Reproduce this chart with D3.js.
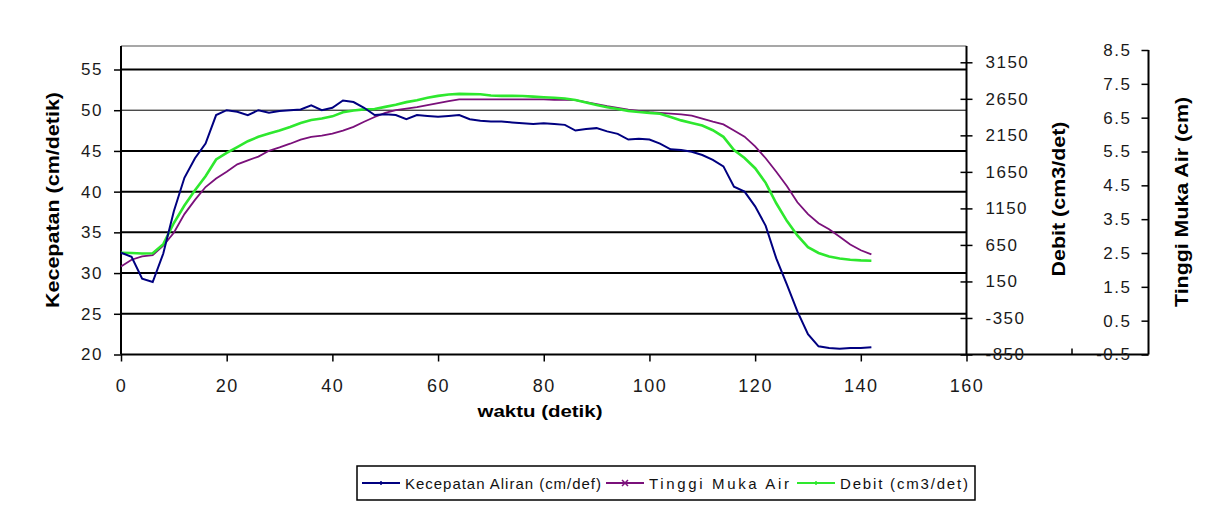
<!DOCTYPE html>
<html>
<head>
<meta charset="utf-8">
<script src="https://cdn.jsdelivr.net/npm/d3@7"></script>
<style>
  body { margin: 0; background: #fff; }
  text { font-family: Arial, "Liberation Sans", sans-serif; }
</style>
</head>
<body>
<div id="chart"></div>
<script>
// waktu (detik)
var waktu = [0,2,4,6,8,10,12,14,16,18,20,22,24,26,28,30,32,34,36,38,40,42,44,46,48,50,52,54,56,58,60,62,64,66,68,70,
  72,74,76,78,80,82,84,86,88,90,92,94,96,98,100,102,104,106,108,110,112,114,116,118,120,122,124,126,128,130,132,134,136,138,140,142];

// Kecepatan Aliran (cm/det) - left axis
var kecepatan = [32.5,32.0,29.3,28.9,32.4,37.6,41.7,44.1,45.9,49.4,50.0,49.8,49.4,50.0,49.7,49.9,50.0,50.1,50.6,50.0,50.3,51.2,
  51.0,50.3,49.4,49.5,49.4,48.9,49.4,49.3,49.2,49.3,49.4,48.9,48.7,48.6,48.6,48.5,48.4,48.3,48.4,48.3,48.2,47.5,47.7,47.8,
  47.4,47.1,46.4,46.5,46.4,45.9,45.2,45.1,44.9,44.5,43.9,43.1,40.6,40.0,38.2,35.8,31.8,28.6,25.3,22.5,21.0,20.8,20.7,20.8,20.8,20.9];

// Tinggi Muka Air (cm) - third axis
var tinggi = [2.10,2.30,2.40,2.44,2.72,3.10,3.65,4.07,4.45,4.70,4.90,5.12,5.24,5.35,5.52,5.62,5.73,5.85,5.93,5.97,6.03,6.12,
  6.23,6.38,6.52,6.64,6.72,6.77,6.81,6.87,6.93,6.99,7.04,7.04,7.04,7.04,7.04,7.04,7.04,7.04,7.04,7.03,7.03,7.02,6.96,6.90,
  6.84,6.79,6.74,6.70,6.66,6.64,6.62,6.60,6.56,6.47,6.38,6.30,6.12,5.94,5.65,5.30,4.90,4.48,4.00,3.65,3.38,3.20,2.98,2.75,2.58,2.46];

// Debit (cm3/det) - right axis
var debit = [543,540,532,535,660,950,1190,1400,1590,1820,1910,1990,2070,2130,2175,2215,2265,2320,2360,2380,2410,2465,
  2490,2505,2510,2540,2570,2605,2630,2665,2690,2710,2718,2715,2712,2695,2690,2690,2688,2680,2672,2665,2655,2635,2600,2565,
  2535,2510,2485,2470,2458,2445,2400,2355,2320,2285,2220,2130,1950,1840,1700,1500,1220,980,780,620,540,492,465,448,438,434];

var xTicks = [0,20,40,60,80,100,120,140,160];
var kecTicks = [20,25,30,35,40,45,50,55];
var debTicks = [-850,-350,150,650,1150,1650,2150,2650,3150];
var tmaTicks = [-0.5,0.5,1.5,2.5,3.5,4.5,5.5,6.5,7.5,8.5];

var seriesNames = ["Kecepatan Aliran (cm/def)", "Tinggi Muka Air", "Debit (cm3/det)"];

var width = 1232, height = 526;

var svg = d3.select("#chart").append("svg")
  .attr("width", width)
  .attr("height", height);

// scales
var x = d3.scaleLinear().domain([0, 160]).range([121, 966.5]);
var yKec = d3.scaleLinear().domain([20, 55]).range([354.5, 69.5]);
var yDeb = d3.scaleLinear().domain([-850, 3150]).range([354.5, 62.3]);
var yTma = d3.scaleLinear().domain([-0.5, 8.5]).range([354.5, 50]);

var plotTop = 46, plotBottom = 354.5;

// top border of plot area
svg.append("line")
  .attr("x1", 121).attr("x2", 966.5)
  .attr("y1", plotTop).attr("y2", plotTop)
  .attr("stroke", "#8a8a8a").attr("stroke-width", 1.5);

// horizontal gridlines
svg.append("g").selectAll("line")
  .data(kecTicks.filter(function(d) { return d > 20; }))
  .enter().append("line")
  .attr("x1", 121).attr("x2", 966.5)
  .attr("y1", function(d) { return yKec(d); })
  .attr("y2", function(d) { return yKec(d); })
  .attr("stroke", "#000")
  .attr("stroke-width", function(d) { return d == 50 ? 1 : 2; });

// bottom line runs out to third axis
svg.append("line")
  .attr("x1", 121).attr("x2", 1148.5)
  .attr("y1", plotBottom).attr("y2", plotBottom)
  .attr("stroke", "#000").attr("stroke-width", 2);
svg.append("line")
  .attr("x1", 1072).attr("x2", 1072)
  .attr("y1", plotBottom - 6).attr("y2", plotBottom)
  .attr("stroke", "#000").attr("stroke-width", 1.5);

function styleAxis(g, size) {
  g.selectAll("text")
    .attr("fill", "#1a1a1a")
    .style("font-size", size + "px")
    .style("letter-spacing", "1.5px");
  g.selectAll(".tick line").attr("stroke", "#000").attr("stroke-width", 1.5);
}

var plain = function(d) { return String(d); };

// left axis
var gKec = svg.append("g")
  .attr("transform", "translate(121,0)")
  .call(d3.axisLeft(yKec).tickValues(kecTicks).tickSize(7).tickPadding(11).tickFormat(plain));
gKec.select(".domain").remove();
styleAxis(gKec, 17);
gKec.append("line").attr("y1", plotTop).attr("y2", plotBottom)
  .attr("stroke", "#000").attr("stroke-width", 2);

// x axis
var gX = svg.append("g")
  .attr("transform", "translate(0," + plotBottom + ")")
  .call(d3.axisBottom(x).tickValues(xTicks).tickSize(7).tickPadding(18).tickFormat(plain));
gX.select(".domain").remove();
styleAxis(gX, 18);

// debit axis (right of plot)
var gDeb = svg.append("g")
  .attr("transform", "translate(966.5,0)")
  .call(d3.axisRight(yDeb).tickValues(debTicks).tickSize(6).tickPadding(13).tickFormat(plain));
gDeb.select(".domain").remove();
styleAxis(gDeb, 17);
gDeb.selectAll(".tick line").attr("x1", -6);
gDeb.append("line").attr("y1", plotTop).attr("y2", plotBottom)
  .attr("stroke", "#000").attr("stroke-width", 2);

// tinggi muka air axis (far right)
var gTma = svg.append("g")
  .attr("transform", "translate(1148.5,0)")
  .call(d3.axisLeft(yTma).tickValues(tmaTicks).tickSize(7).tickPadding(10)
    .tickFormat(function(d) { return d.toFixed(1); }));
gTma.select(".domain").remove();
styleAxis(gTma, 17);
gTma.append("line").attr("y1", yTma(8.5)).attr("y2", plotBottom)
  .attr("stroke", "#000").attr("stroke-width", 2);

// series lines
function makeLine(vals, yScale) {
  return d3.line()
    .x(function(d, i) { return x(waktu[i]); })
    .y(function(d) { return yScale(d); })(vals);
}

svg.append("path")
  .attr("d", makeLine(tinggi, yTma))
  .attr("fill", "none").attr("stroke", "#7a107a").attr("stroke-width", 1.8);

svg.append("path")
  .attr("d", makeLine(debit, yDeb))
  .attr("fill", "none").attr("stroke", "#2ee82e").attr("stroke-width", 2.6);

svg.append("path")
  .attr("d", makeLine(kecepatan, yKec))
  .attr("fill", "none").attr("stroke", "#000080").attr("stroke-width", 2);

// axis titles
function vTitle(txt, cx, cy, len) {
  svg.append("text")
    .attr("transform", "translate(" + cx + "," + cy + ") rotate(-90)")
    .attr("text-anchor", "middle")
    .attr("dominant-baseline", "central")
    .attr("textLength", len)
    .attr("lengthAdjust", "spacingAndGlyphs")
    .style("font-size", "19px")
    .style("font-weight", "bold")
    .text(txt);
}
vTitle("Kecepatan (cm/detik)", 52, 200, 216);
vTitle("Debit (cm3/det)", 1058, 199, 155);
vTitle("Tinggi Muka Air (cm)", 1181, 202, 210);

svg.append("text")
  .attr("x", 540).attr("y", 417)
  .attr("text-anchor", "middle")
  .attr("textLength", 125)
  .attr("lengthAdjust", "spacingAndGlyphs")
  .style("font-size", "16px")
  .style("font-weight", "bold")
  .text("waktu (detik)");

// legend
var legendColors = ["#000080", "#7a107a", "#2ee82e"];
var legendX = [362, 606, 797];
var legendLen = [196, 140, 128];
var legend = svg.append("g");
legend.append("rect")
  .attr("x", 357).attr("y", 466)
  .attr("width", 618).attr("height", 34)
  .attr("fill", "#fff").attr("stroke", "#000").attr("stroke-width", 1.5);

var item = legend.selectAll(".item")
  .data(seriesNames)
  .enter().append("g")
  .attr("class", "item")
  .attr("transform", function(d, i) { return "translate(" + legendX[i] + ",483)"; });

item.append("line")
  .attr("x1", 0).attr("x2", 38)
  .attr("stroke", function(d, i) { return legendColors[i]; })
  .attr("stroke-width", function(d, i) { return i == 2 ? 2.2 : 1.8; });

item.append("path")
  .attr("d", function(d, i) {
    if (i == 1) return "M16,-3L22,3M16,3L22,-3";
    return "M19,-2L19,2";
  })
  .attr("stroke", function(d, i) { return legendColors[i]; })
  .attr("stroke-width", 1.5);

item.append("text")
  .attr("x", 43)
  .attr("dominant-baseline", "central")
  .attr("textLength", function(d, i) { return legendLen[i]; })
  .attr("lengthAdjust", "spacing")
  .style("font-size", "15px")
  .attr("fill", "#111")
  .text(function(d) { return d; });
</script>
</body>
</html>
